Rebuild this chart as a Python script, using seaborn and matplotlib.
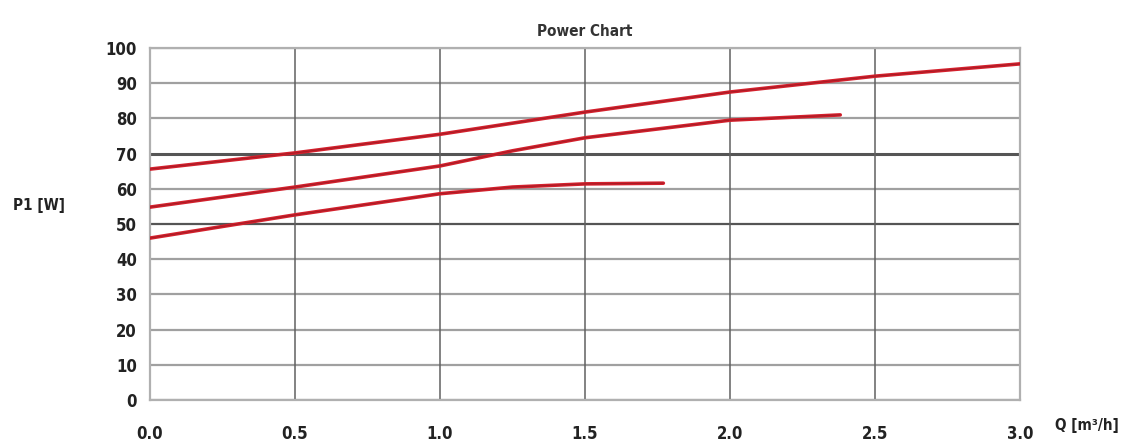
import pandas as pd
import numpy as np
import matplotlib
matplotlib.use('Agg')
import matplotlib.pyplot as plt
import seaborn as sns

# curves: flow Q [m3/h] -> power P1 [W]
q_high = [0.0, 0.5, 1.0, 1.5, 2.0, 2.5, 3.0]
p_high = [65.6, 70.2, 75.5, 81.8, 87.5, 92.0, 95.5]
q_mid = [0.0, 0.5, 1.0, 1.25, 1.5, 2.0, 2.38]
p_mid = [54.8, 60.5, 66.5, 70.8, 74.5, 79.5, 81.0]
q_low = [0.0, 0.5, 1.0, 1.25, 1.5, 1.77]
p_low = [46.0, 52.6, 58.6, 60.5, 61.4, 61.6]

x_ticks = [0.0, 0.5, 1.0, 1.5, 2.0, 2.5, 3.0]
y_ticks = [0, 10, 20, 30, 40, 50, 60, 70, 80, 90, 100]

df = pd.concat([
    pd.DataFrame({'Q': q_high, 'P1': p_high, 'speed': 'III'}),
    pd.DataFrame({'Q': q_mid, 'P1': p_mid, 'speed': 'II'}),
    pd.DataFrame({'Q': q_low, 'P1': p_low, 'speed': 'I'}),
])

sns.set_style('white')
plt.rcParams['font.family'] = ['DejaVu Sans']
plt.rcParams['font.stretch'] = 'condensed'

fig = plt.figure(figsize=(11.29, 4.43), dpi=100)
ax = fig.add_axes([0.1329, 0.0971, 0.7706, 0.7945])

# grid: horizontal grey, a couple darker, verticals dark grey
for y in y_ticks:
    dark = y in (50, 70)
    ax.axhline(y, color='#555555' if dark else '#a0a0a0', lw=2.2 if y == 70 else 1.6, zorder=1)
for x in x_ticks[1:-1]:
    ax.axvline(x, color='#606060', lw=1.1, zorder=1)

sns.lineplot(data=df, x='Q', y='P1', hue='speed',
             palette={'III': '#d4202c', 'II': '#d4202c', 'I': '#d4202c'},
             lw=2.6, legend=False, ax=ax, zorder=3)
sns.lineplot(data=df, x='Q', y='P1', hue='speed',
             palette={'III': '#8a1a22', 'II': '#8a1a22', 'I': '#8a1a22'},
             lw=0.8, legend=False, ax=ax, zorder=4, alpha=0.6)

ax.set_xlim(0, 3.0)
ax.set_ylim(0, 100)
ax.set_xticks(x_ticks)
ax.set_xticklabels([f'{v:.1f}' for v in x_ticks])
ax.set_yticks(y_ticks)
ax.tick_params(axis='x', length=0, pad=18, labelsize=12, colors='#222222')
ax.tick_params(axis='y', length=0, pad=9.5, labelsize=12, colors='#222222')
for lab in ax.get_xticklabels() + ax.get_yticklabels():
    lab.set_fontweight('bold')
for s in ax.spines.values():
    s.set_color('#b0b0b0')
    s.set_linewidth(1.6)

ax.set_xlabel('')
ax.set_ylabel('')
fig.text(0.0115, 0.535, 'P1 [W]', fontsize=11, fontweight='bold', color='#222222', ha='left', va='center')
fig.text(0.9345, 0.022, 'Q [m³/h]', fontsize=11, fontweight='bold', color='#222222', ha='left', va='bottom')
ax.set_title('Power Chart', fontsize=11, fontweight='bold', color='#333333', pad=9)

fig.savefig('out.png', dpi=100)
